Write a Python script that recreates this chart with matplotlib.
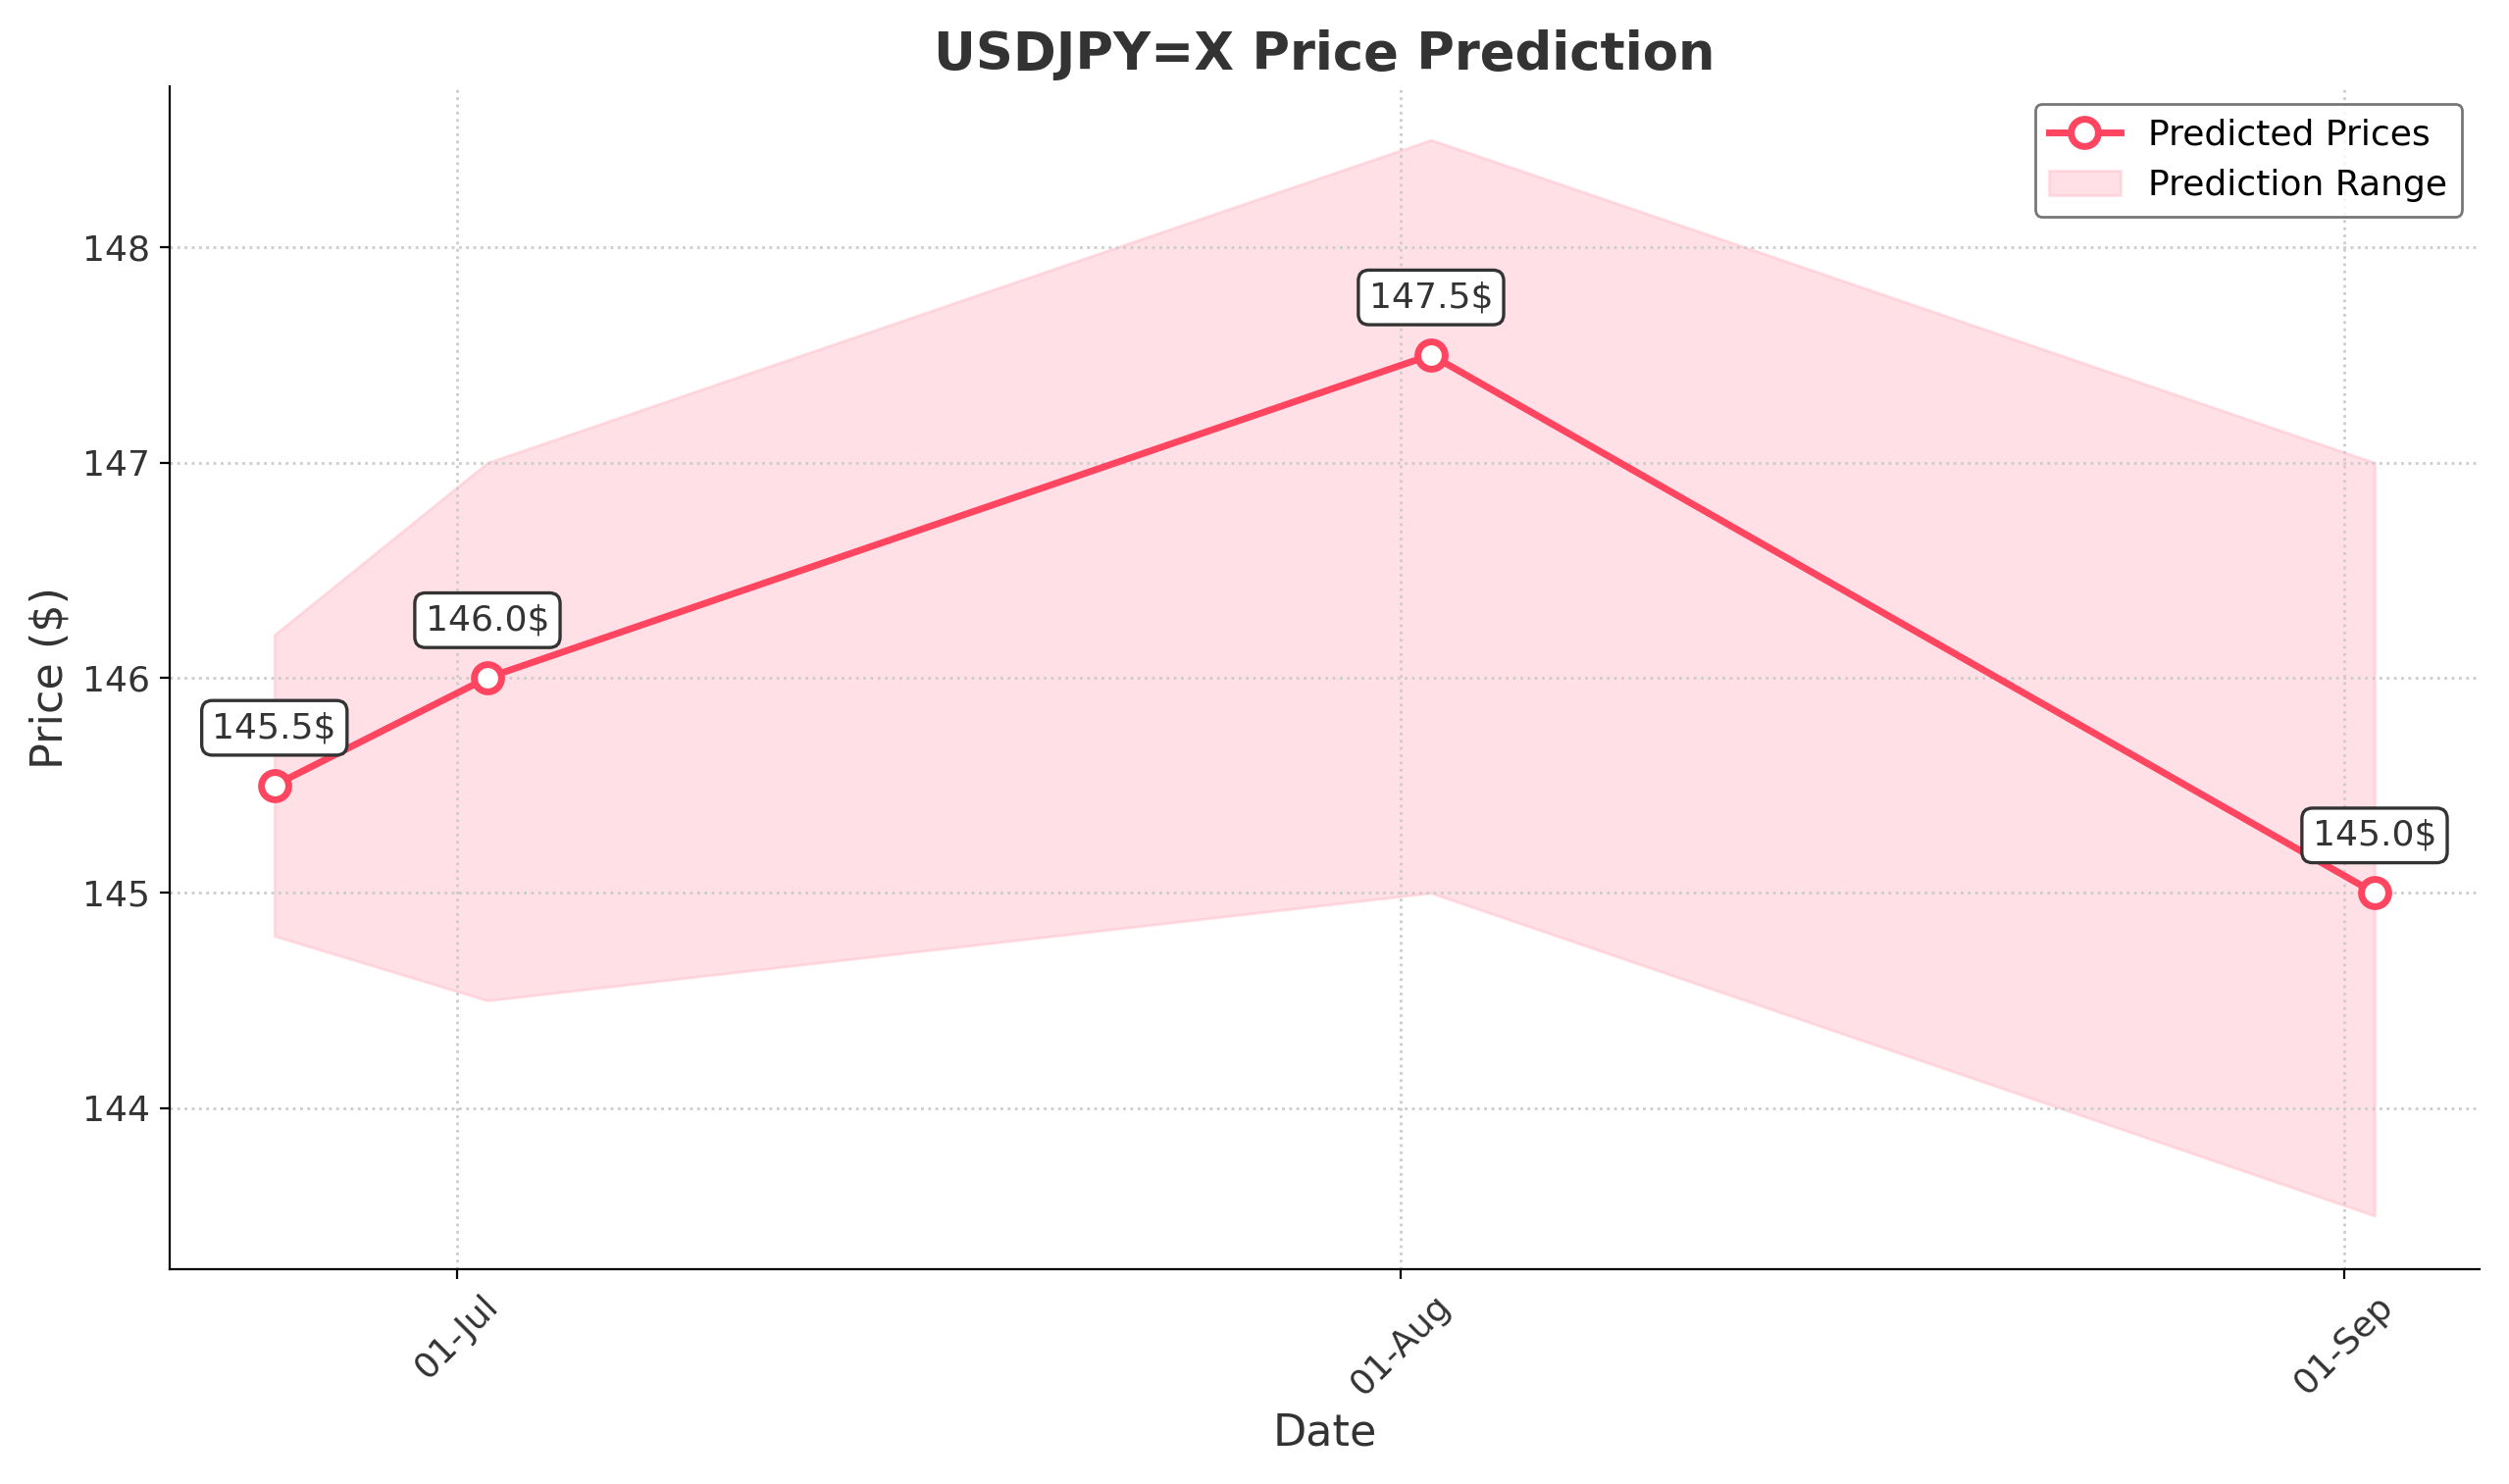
import matplotlib
matplotlib.use("Agg")
import matplotlib.pyplot as plt
import matplotlib.dates as mdates
import pandas as pd

dates = pd.to_datetime(["2024-06-25", "2024-07-02", "2024-08-02", "2024-09-02"])
predicted = [145.5, 146.0, 147.5, 145.0]
upper = [146.2, 147.0, 148.5, 147.0]
lower = [144.8, 144.5, 145.0, 143.5]

color = "#FF4560"
fig, ax = plt.subplots(figsize=(12.79, 7.565), dpi=200)
l1, = ax.plot(dates, predicted, color=color, lw=2.5, marker="o", markersize=10,
              markerfacecolor="white", markeredgewidth=2.5, label="Predicted Prices", zorder=3)
f1 = ax.fill_between(dates, lower, upper, color="#FFB3C1", alpha=0.4, label="Prediction Range")
for d, v in zip(dates, predicted):
    ax.annotate(f"{v:.1f}$", (d, v), xytext=(0, 15), textcoords="offset points",
                ha="center", va="bottom", fontsize=13, color="#333333",
                bbox=dict(boxstyle="round,pad=0.3", fc="white", ec="#333333", lw=1.2))
ax.set_title("USDJPY=X Price Prediction", fontsize=19, fontweight="bold", color="#333333")
ax.set_xlabel("Date", fontsize=16, color="#333333")
ax.set_ylabel("Price ($)", fontsize=16, color="#333333")
ax.xaxis.set_major_locator(mdates.MonthLocator())
ax.xaxis.set_major_formatter(mdates.DateFormatter("%d-%b"))
plt.setp(ax.get_xticklabels(), rotation=45, fontsize=13, color="#333333")
plt.setp(ax.get_yticklabels(), fontsize=13, color="#333333")
ax.grid(True, linestyle=":", color="#cccccc", lw=1)
ax.spines["top"].set_visible(False)
ax.spines["right"].set_visible(False)
ax.set_ylim(143.25, 148.75)
ax.legend(handles=[l1, f1], loc="upper right", fontsize=13, edgecolor="#555555")
fig.tight_layout()
fig.savefig("out.png")
